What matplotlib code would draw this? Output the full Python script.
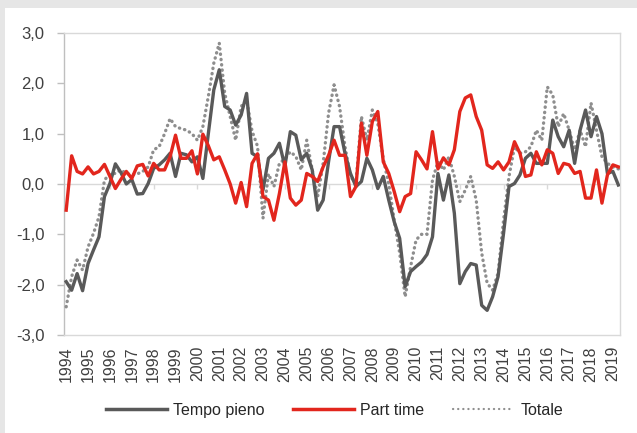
import numpy as np
import matplotlib
matplotlib.use("Agg")
import matplotlib.pyplot as plt
from matplotlib.patches import Rectangle
from matplotlib.lines import Line2D

plt.rcParams['font.family'] = ['Liberation Sans', 'DejaVu Sans']

# quarterly series, 1994 Q1 onwards
years = list(range(1994, 2020))

tempo_pieno = [
    -1.94, -2.11, -1.78, -2.12, -1.58, -1.31, -1.05, -0.25, 0.01, 0.40,
    0.23, 0.00, 0.09, -0.20, -0.19, 0.01, 0.31, 0.38, 0.48, 0.61,
    0.15, 0.61, 0.58, 0.44, 0.54, 0.11, 1.00, 1.87, 2.27, 1.54,
    1.47, 1.17, 1.37, 1.80, 0.61, 0.54, -0.12, 0.51, 0.61, 0.81,
    0.35, 1.04, 0.97, 0.48, 0.61, 0.28, -0.52, -0.32, 0.45, 1.14,
    1.14, 0.61, 0.21, -0.05, 0.05, 0.51, 0.28, -0.09, 0.15, -0.32,
    -0.75, -1.08, -2.04, -1.74, -1.64, -1.55, -1.40, -1.05, 0.21, -0.32,
    0.18, -0.58, -1.98, -1.74, -1.58, -1.61, -2.41, -2.51, -2.24, -1.84,
    -0.98, -0.05, 0.01, 0.18, 0.51, 0.61, 0.41, 0.41, 0.41, 1.27,
    0.94, 0.74, 1.07, 0.41, 1.07, 1.47, 0.94, 1.34, 1.00, 0.21,
    0.25, -0.02,
]

part_time = [
    -0.52, 0.56, 0.25, 0.20, 0.34, 0.20, 0.25, 0.39, 0.15, -0.09,
    0.09, 0.25, 0.11, 0.36, 0.39, 0.16, 0.41, 0.28, 0.28, 0.54,
    0.97, 0.51, 0.51, 0.66, 0.20, 0.99, 0.76, 0.48, 0.54, 0.28,
    0.00, -0.38, 0.03, -0.45, 0.41, 0.60, -0.25, -0.32, -0.72, -0.19,
    0.44, -0.28, -0.42, -0.32, 0.21, 0.15, 0.05, 0.34, 0.57, 0.87,
    0.57, 0.57, -0.25, -0.05, 1.21, 0.57, 1.24, 1.44, 0.44, 0.21,
    -0.15, -0.55, -0.25, -0.19, 0.64, 0.48, 0.30, 1.04, 0.30, 0.52,
    0.38, 0.68, 1.44, 1.71, 1.77, 1.34, 1.07, 0.38, 0.31, 0.44,
    0.28, 0.44, 0.84, 0.61, 0.15, 0.18, 0.64, 0.38, 0.68, 0.61,
    0.21, 0.41, 0.38, 0.21, 0.25, -0.28, -0.28, 0.28, -0.38, 0.18,
    0.38, 0.34,
]

totale = [
    -2.44, -1.84, -1.51, -1.71, -1.25, -0.98, -0.65, 0.08, 0.20, 0.21,
    0.28, 0.21, 0.18, 0.20, 0.25, 0.34, 0.68, 0.74, 1.00, 1.30,
    1.14, 1.10, 1.07, 1.00, 0.87, 1.14, 1.74, 2.40, 2.80, 1.80,
    1.34, 0.87, 1.54, 1.67, 1.05, 0.75, -0.68, 0.20, -0.05, 0.41,
    0.50, 0.64, 0.55, 0.28, 0.87, 0.28, -0.25, 0.41, 1.41, 1.97,
    1.54, 0.74, 0.15, 0.01, 1.34, 0.87, 1.47, 1.20, 0.50, 0.00,
    -0.72, -1.37, -2.24, -1.64, -1.11, -1.00, -1.00, 0.08, 0.44, 0.28,
    0.54, 0.15, -0.35, -0.12, 0.15, -0.32, -1.37, -1.97, -2.11, -1.77,
    -0.72, 0.15, 0.74, 0.61, 0.64, 0.74, 1.07, 0.87, 1.93, 1.77,
    1.14, 1.40, 1.07, 0.68, 1.07, 0.74, 1.61, 1.07, 0.54, 0.41,
    0.34, 0.30,
]

n = len(tempo_pieno)
x = np.arange(n)

fig = plt.figure(figsize=(6.37, 4.33), dpi=100)
fig.patch.set_facecolor('#e6e6e6')
fig.add_artist(Rectangle((5 / 637, 0), 632 / 637, 425 / 433, transform=fig.transFigure,
                         facecolor='white', edgecolor='none', zorder=0))

ax = fig.add_axes([64 / 637, 1 - 335 / 433, 556 / 637, 302 / 433])
ax.set_facecolor('none')

grey = '#595959'
red = '#e2261d'
dots = '#8e8e8e'

ax.plot(x, totale, color=dots, lw=2.4, linestyle=(0, (0.1, 1.5)), dash_capstyle='round', zorder=3)
ax.plot(x, tempo_pieno, color=grey, lw=2.4, zorder=4)
ax.plot(x, part_time, color=red, lw=2.4, zorder=5)

# zero axis with small ticks every two years
ax.axhline(0, color='#d9d9d9', lw=1, zorder=1)
ax.vlines(np.arange(8, n, 8), -0.1, 0, color='#d9d9d9', lw=1, zorder=1)

ax.set_ylim(-3, 3)
ax.set_xlim(-0.4, n - 0.7)
ax.set_yticks(np.arange(-3, 3.1, 1))
ax.set_yticklabels([f"{v:.1f}".replace('.', ',') for v in np.arange(-3, 3.1, 1)])
ax.set_xticks(np.arange(0, 4 * len(years), 4))
ax.set_xticklabels([str(y) for y in years], rotation=90)

for s in ax.spines.values():
    s.set_color('#d9d9d9')
    s.set_linewidth(1)
ax.spines['left'].set_color('#bfbfbf')

ax.tick_params(axis='y', length=5, width=1, color='#bfbfbf', pad=9, labelsize=12, labelcolor='#404040')
ax.tick_params(axis='x', length=0, pad=8, labelsize=11.5, labelcolor='#404040')

handles = [
    Line2D([], [], color=grey, lw=2.5),
    Line2D([], [], color=red, lw=2.5),
    Line2D([], [], color=dots, lw=1.6, linestyle=(0, (0.1, 2.2)), dash_capstyle='round'),
]
fig.legend(handles, ['Tempo pieno', 'Part time', 'Totale'], loc='center',
           bbox_to_anchor=(0.525, 0.053), ncol=3, frameon=False, fontsize=11.5,
           handlelength=3.8, handletextpad=0.4, columnspacing=1.8, labelcolor='#262626')

fig.savefig('out.png', dpi=100, facecolor=fig.get_facecolor())
